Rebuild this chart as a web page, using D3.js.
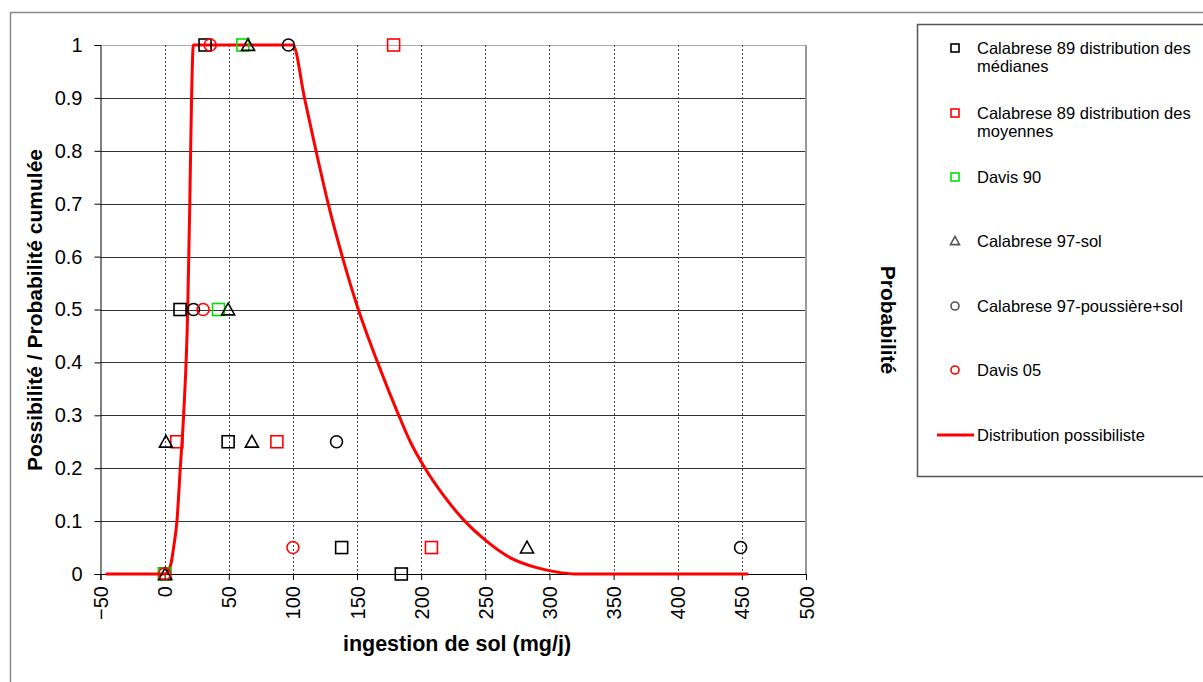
<!DOCTYPE html>
<html><head><meta charset="utf-8">
<script src="https://cdn.jsdelivr.net/npm/d3@7/dist/d3.min.js"></script>
<style>body{margin:0;background:#fff}svg{display:block;font-family:"Liberation Sans",Arial,sans-serif}</style>
</head><body>
<svg id="c" width="1203" height="682"></svg>
<script>
// ---- data ----
const xTicks = [-50,0,50,100,150,200,250,300,350,400,450,500];
const yTicks = [0,0.1,0.2,0.3,0.4,0.5,0.6,0.7,0.8,0.9,1];
const seriesNames = ["Calabrese 89 distribution des médianes","Calabrese 89 distribution des moyennes","Davis 90","Calabrese 97-sol","Calabrese 97-poussière+sol","Davis 05","Distribution possibiliste"];
const calab89Med = [[0,0],[12,0.5],[31.5,1],[49.5,0.25],[138,0.05],[184.5,0]];
const calab89Moy = [[9.5,0.25],[87.5,0.25],[178.5,1],[208,0.05]];
const davis90 = [[0,0],[42,0.5],[61,1]];
const calab97Sol = [[0.5,0],[1,0.25],[49.5,0.5],[65,1],[68,0.25],[282.5,0.05]];
const calab97PS = [[22.5,0.5],[96.5,1],[134,0.25],[449,0.05]];
const davis05 = [[0,0],[30,0.5],[35.5,1],[100,0.05]];
const possX = [-46,0,2,5,7,9.6,12.2,14.8,18,19.6,21,22.4,100,109,118,127.5,138.5,151,166,182.5,191.5,203,217,234,250,270,290,305,320,455];
const possY = [0,0,0.003,0.02,0.05,0.1,0.2,0.3,0.5,0.7,0.9,1,1,0.9,0.8,0.7,0.6,0.5,0.4,0.3,0.25,0.2,0.15,0.1,0.064,0.03,0.012,0.004,0,0];

const svg = d3.select("#c");
const x = d3.scaleLinear().domain([-50,500]).range([100.5,806]);
const y = d3.scaleLinear().domain([0,1]).range([574,45]);
const FONT = "Liberation Sans, Arial, sans-serif";

// outer frame
svg.append("rect").attr("x",10.5).attr("y",12.5).attr("width",1250).attr("height",700)
  .attr("fill","none").attr("stroke","#888").attr("stroke-width",1.5);

// horizontal gridlines
svg.append("g").selectAll("line").data(yTicks.filter(d=>d>0)).join("line")
  .attr("x1",x(-50)).attr("x2",x(500)).attr("y1",d=>Math.round(y(d))+0.5).attr("y2",d=>Math.round(y(d))+0.5)
  .attr("stroke",d=>d===1?"#aaa":"#333").attr("stroke-width",1);
// vertical gridlines (dotted)
svg.append("g").selectAll("line").data(xTicks.filter(d=>d>-50&&d<500)).join("line")
  .attr("x1",d=>Math.round(x(d))+0.5).attr("x2",d=>Math.round(x(d))+0.5).attr("y1",y(1)).attr("y2",y(0))
  .attr("stroke","#444").attr("stroke-width",1).attr("stroke-dasharray","2,2");
// right border of plot area
svg.append("line").attr("x1",x(500)).attr("x2",x(500)).attr("y1",y(1)).attr("y2",y(0))
  .attr("stroke","#999").attr("stroke-width",2);

// axes
const yAxis = d3.axisLeft(y).tickValues(yTicks).tickFormat(d=>d===0?"0":d===1?"1":d3.format(".1f")(d)).tickSize(6).tickPadding(12);
const gy = svg.append("g").attr("transform",`translate(${x(-50)},0)`).call(yAxis);
gy.selectAll("text").attr("font-size",20).attr("fill","#000").attr("font-family",FONT);
gy.selectAll("line,path").attr("stroke","#000");

const xAxis = d3.axisBottom(x).tickValues(xTicks).tickFormat(d3.format("d")).tickSize(6).tickSizeOuter(6);
const gx = svg.append("g").attr("transform",`translate(0,${y(0)})`).call(xAxis);
gx.selectAll("line,path").attr("stroke","#000");
gx.selectAll("text").attr("font-size",20).attr("fill","#000").attr("font-family",FONT)
  .attr("transform","rotate(-90)").attr("text-anchor","end").attr("x",-12).attr("y",0).attr("dy","0.35em");

// possibility line
const possData = possX.map((v,i)=>[v,possY[i]]);
svg.append("path").datum(possData)
  .attr("d",d3.line().x(d=>x(d[0])).y(d=>y(d[1])).curve(d3.curveMonotoneX))
  .attr("fill","none").attr("stroke","#ff0000").attr("stroke-width",3);

// markers
function drawMarker(g, type, color, cx, cy, s){
  if(type==="square"){
    g.append("rect").attr("x",cx-s/2).attr("y",cy-s/2).attr("width",s).attr("height",s)
      .attr("fill","none").attr("stroke",color).attr("stroke-width",1.6);
  } else if(type==="circle"){
    g.append("circle").attr("cx",cx).attr("cy",cy).attr("r",s/2)
      .attr("fill","none").attr("stroke",color).attr("stroke-width",1.6);
  } else {
    const h=s*0.9;
    g.append("path").attr("d",`M${cx},${cy-h/2-1}L${cx+s/2+0.5},${cy+h/2}L${cx-s/2-0.5},${cy+h/2}Z`)
      .attr("fill","none").attr("stroke",color).attr("stroke-width",1.6);
  }
}
const series = [
  {data:calab89Med,type:"square",color:"#000"},
  {data:calab89Moy,type:"square",color:"#ff0000"},
  {data:davis90,type:"square",color:"#00e000"},
  {data:calab97Sol,type:"triangle",color:"#000"},
  {data:calab97PS,type:"circle",color:"#000"},
  {data:davis05,type:"circle",color:"#ff0000"}
];
const gm = svg.append("g");
series.forEach(s=>s.data.forEach(d=>drawMarker(gm,s.type,s.color,x(d[0]),y(d[1]),12)));

// axis titles
svg.append("text").attr("transform","translate(42,310) rotate(-90)").attr("text-anchor","middle")
  .attr("font-size",21).attr("font-weight","bold").text("Possibilité / Probabilité cumulée");
svg.append("text").attr("x",457).attr("y",651).attr("text-anchor","middle")
  .attr("font-size",21.5).attr("font-weight","bold").text("ingestion de sol (mg/j)");
svg.append("text").attr("transform","translate(881,320) rotate(90)").attr("text-anchor","middle")
  .attr("font-size",21).attr("font-weight","bold").text("Probabilité");

// legend
svg.append("rect").attr("x",917.5).attr("y",24.5).attr("width",300).attr("height",452)
  .attr("fill","#fff").attr("stroke","#555").attr("stroke-width",1.5);
const legRows = [
  {lines:["Calabrese 89 distribution des","médianes"],type:"square",color:"#000",y:48},
  {lines:["Calabrese 89 distribution des","moyennes"],type:"square",color:"#ff0000",y:113},
  {lines:["Davis 90"],type:"square",color:"#00e000",y:177},
  {lines:["Calabrese 97-sol"],type:"triangle",color:"#555",y:241},
  {lines:["Calabrese 97-poussière+sol"],type:"circle",color:"#555",y:306},
  {lines:["Davis 05"],type:"circle",color:"#ff0000",y:370},
  {lines:["Distribution possibiliste"],type:"line",color:"#ff0000",y:435}
];
const gl = svg.append("g");
legRows.forEach((r,i)=>{
  if(r.type==="line"){
    gl.append("line").attr("x1",937).attr("x2",974).attr("y1",r.y).attr("y2",r.y).attr("stroke",r.color).attr("stroke-width",3);
  } else drawMarker(gl,r.type,r.color,955,r.y,8);
  const t = gl.append("text").attr("x",977).attr("y",r.y+6).attr("font-size",16.5).attr("fill","#000");
  r.lines.forEach((l,j)=>t.append("tspan").attr("x",977).attr("dy",j===0?0:17.5).text(l));
});
</script>
</body></html>
